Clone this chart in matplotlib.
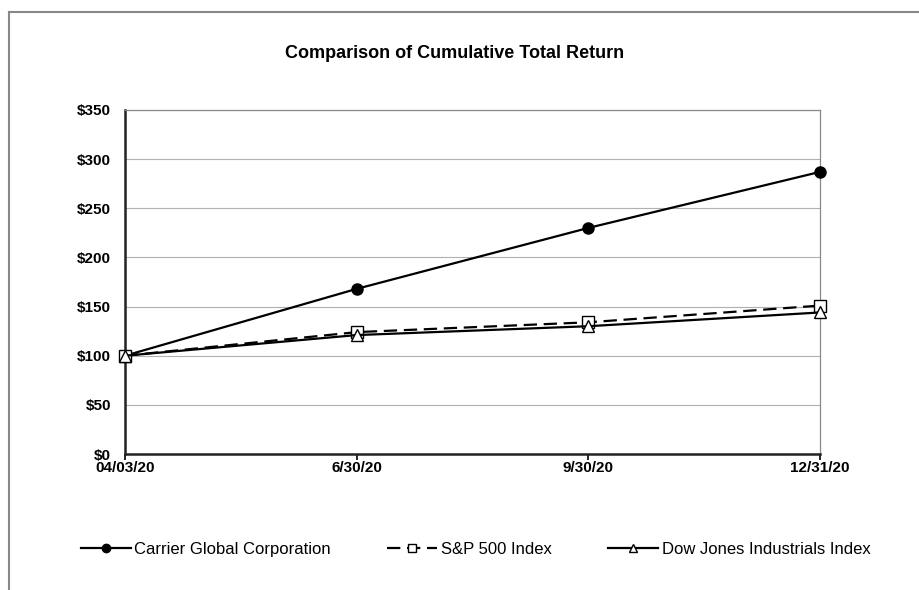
import matplotlib.pyplot as plt
from matplotlib.lines import Line2D

plt.rcParams['font.family'] = ['Liberation Sans', 'DejaVu Sans']

dates = ["04/03/20", "6/30/20", "9/30/20", "12/31/20"]
carrier = [100, 168, 230, 287]
sp500 = [100, 124, 134, 151]
dow = [100, 121, 130, 144]
y_ticks = [0, 50, 100, 150, 200, 250, 300, 350]

fig = plt.figure(figsize=(9.2, 5.9), dpi=100)
ax = fig.add_axes([0.1359, 0.2305, 0.7554, 0.5831])

x = range(len(dates))
ax.plot(x, carrier, color='black', lw=1.6, marker='o', ms=8,
        mfc='black', mec='black', label='Carrier Global Corporation',
        zorder=3, clip_on=False)
ax.plot(x, sp500, color='black', lw=1.6, ls=(0, (6, 3)), marker='s', ms=8,
        mfc='white', mec='black', mew=1, label='S&P 500 Index',
        zorder=4, clip_on=False)
ax.plot(x, dow, color='black', lw=1.6, marker='^', ms=8,
        mfc='white', mec='black', mew=1, label='Dow Jones Industrials Index',
        zorder=5, clip_on=False)

ax.set_xlim(0, 3)
ax.set_ylim(0, 350)
ax.set_xticks(list(x))
ax.set_xticklabels(dates, fontsize=11, fontweight='bold')
ax.set_yticks(y_ticks)
ax.set_yticklabels([f"${v}" for v in y_ticks], fontsize=11, fontweight='bold')
ax.tick_params(axis='y', length=0, pad=10)
ax.tick_params(axis='x', length=4, width=1.2, direction='out', pad=1)
ax.grid(axis='y', color='#b0b0b0', lw=0.8)
ax.set_axisbelow(True)

for side in ['left', 'bottom']:
    ax.spines[side].set_linewidth(1.8)
    ax.spines[side].set_color('#222222')
for side in ['top', 'right']:
    ax.spines[side].set_linewidth(0.9)
    ax.spines[side].set_color('#888888')

fig.text(0.4946, 0.91, "Comparison of Cumulative Total Return",
         ha='center', va='center', fontsize=13, fontweight='bold')

fig.legend(loc='center', bbox_to_anchor=(0.517, 0.069), ncol=3, frameon=False,
           fontsize=12, handlelength=3.0, handletextpad=0.2, columnspacing=3.4,
           markerscale=0.75)

# outer frame (left and top edges only)
fig.add_artist(Line2D([0.0098, 0.0098], [0, 0.98], transform=fig.transFigure,
                      color='#888888', lw=1.5))
fig.add_artist(Line2D([0.0098, 1.0], [0.98, 0.98], transform=fig.transFigure,
                      color='#888888', lw=1.5))

fig.savefig('out.png', dpi=100)
